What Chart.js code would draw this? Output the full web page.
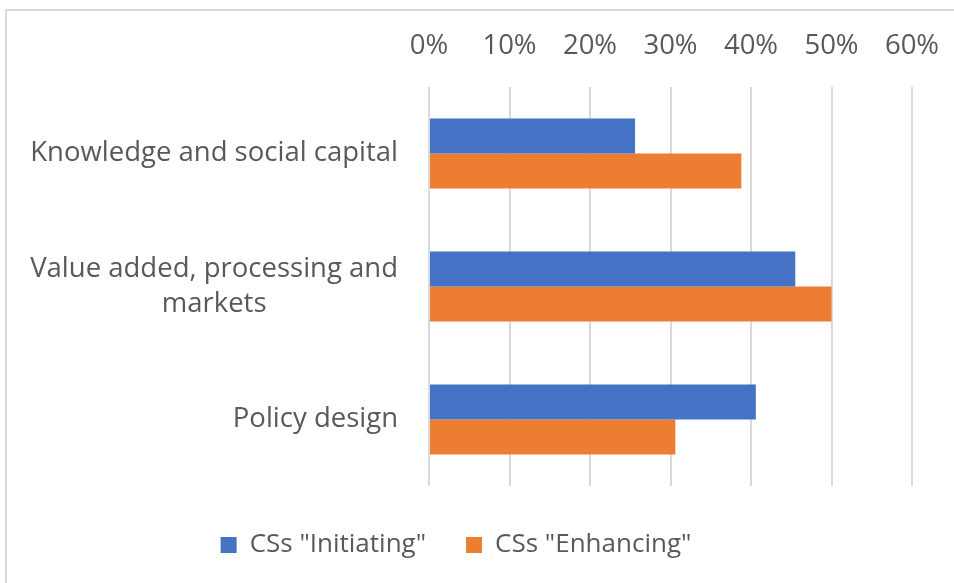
<!DOCTYPE html>
<html>
<head>
<meta charset="utf-8">
<script src="https://cdn.jsdelivr.net/npm/chart.js@4/dist/chart.umd.min.js"></script>
<style>
  html, body { margin: 0; padding: 0; background: #fff; }
  #wrap { position: relative; width: 954px; height: 583px; overflow: hidden; }
  #frame {
    position: absolute; left: 5px; top: 9px; width: 1000px; height: 1000px;
    border-top: 2px solid #d9d9d9; border-left: 2px solid #d9d9d9;
    pointer-events: none;
  }
  canvas { position: absolute; left: 0; top: 0; }
</style>
</head>
<body>
<div id="wrap">
  <canvas id="myChart" width="954" height="583"></canvas>
  <div id="frame"></div>
</div>
<script>
// categories (top to bottom) and shares in percent
var categories = [
  'Knowledge and social capital',
  ['Value added, processing and', 'markets'],
  'Policy design'
];
var initiating = [25.6, 45.5, 40.6];
var enhancing = [38.8, 50.0, 30.6];
var seriesNames = ['CSs "Initiating"', 'CSs "Enhancing"'];
var axisMax = 60;
var axisStep = 10;

var textColor = '#595959';
var fontFamily = '"Open Sans", "Liberation Sans", sans-serif';
var fontSize = 27.5;

// y labels: block right aligned to the axis, lines centred inside the block
var categoryLabels = {
  id: 'categoryLabels',
  afterDraw: function(chart) {
    var scale = chart.scales.y;
    var ctx = chart.ctx;
    var lineHeight = 35;
    ctx.save();
    ctx.font = fontSize + 'px ' + fontFamily;
    ctx.fillStyle = textColor;
    ctx.textAlign = 'center';
    ctx.textBaseline = 'middle';
    categories.forEach(function(label, i) {
      var lines = Array.isArray(label) ? label : [label];
      var w = 0;
      lines.forEach(function(l) { w = Math.max(w, ctx.measureText(l).width); });
      var right = scale.right - 31;
      var cx = right - w / 2;
      var cy = scale.getPixelForValue(i);
      var y0 = cy - (lines.length - 1) * lineHeight / 2;
      lines.forEach(function(l, j) {
        ctx.fillText(l, cx, y0 + j * lineHeight);
      });
    });
    ctx.restore();
  }
};

var ctx = document.getElementById('myChart').getContext('2d');
window.myChart = new Chart(ctx, {
  type: 'bar',
  data: {
    labels: categories,
    datasets: [{
      label: seriesNames[0],
      data: initiating,
      backgroundColor: '#4472C4'
    }, {
      label: seriesNames[1],
      data: enhancing,
      backgroundColor: '#ED7D31'
    }]
  },
  options: {
    indexAxis: 'y',
    responsive: false,
    animation: false,
    categoryPercentage: 0.525,
    barPercentage: 1.0,
    layout: {
      padding: { top: 0, left: 0, right: 42, bottom: 15 }
    },
    scales: {
      x: {
        position: 'top',
        min: 0,
        max: axisMax,
        border: { display: false },
        grid: { color: '#d9d9d9', lineWidth: 2, drawTicks: false },
        ticks: {
          stepSize: axisStep,
          padding: 24,
          color: textColor,
          font: { family: fontFamily, size: fontSize },
          callback: function(v) { return v + '%'; }
        },
        afterFit: function(scale) {
          scale.height = 87;
          scale.paddingLeft = 0;
          scale.paddingRight = 0;
        }
      },
      y: {
        border: { display: false },
        grid: { display: false },
        ticks: { display: false },
        afterFit: function(scale) { scale.width = 429; }
      }
    },
    plugins: {
      legend: {
        position: 'bottom',
        // empty title only used as a spacer above the items
        title: { display: true, text: '', font: { size: 1 }, padding: { top: 2.4, bottom: 2.4 } },
        labels: {
          boxWidth: 16,
          boxHeight: 16,
          padding: 40,
          color: textColor,
          font: { family: fontFamily, size: 26 }
        }
      },
      tooltip: { enabled: false }
    }
  },
  plugins: [categoryLabels]
});
</script>
</body>
</html>
